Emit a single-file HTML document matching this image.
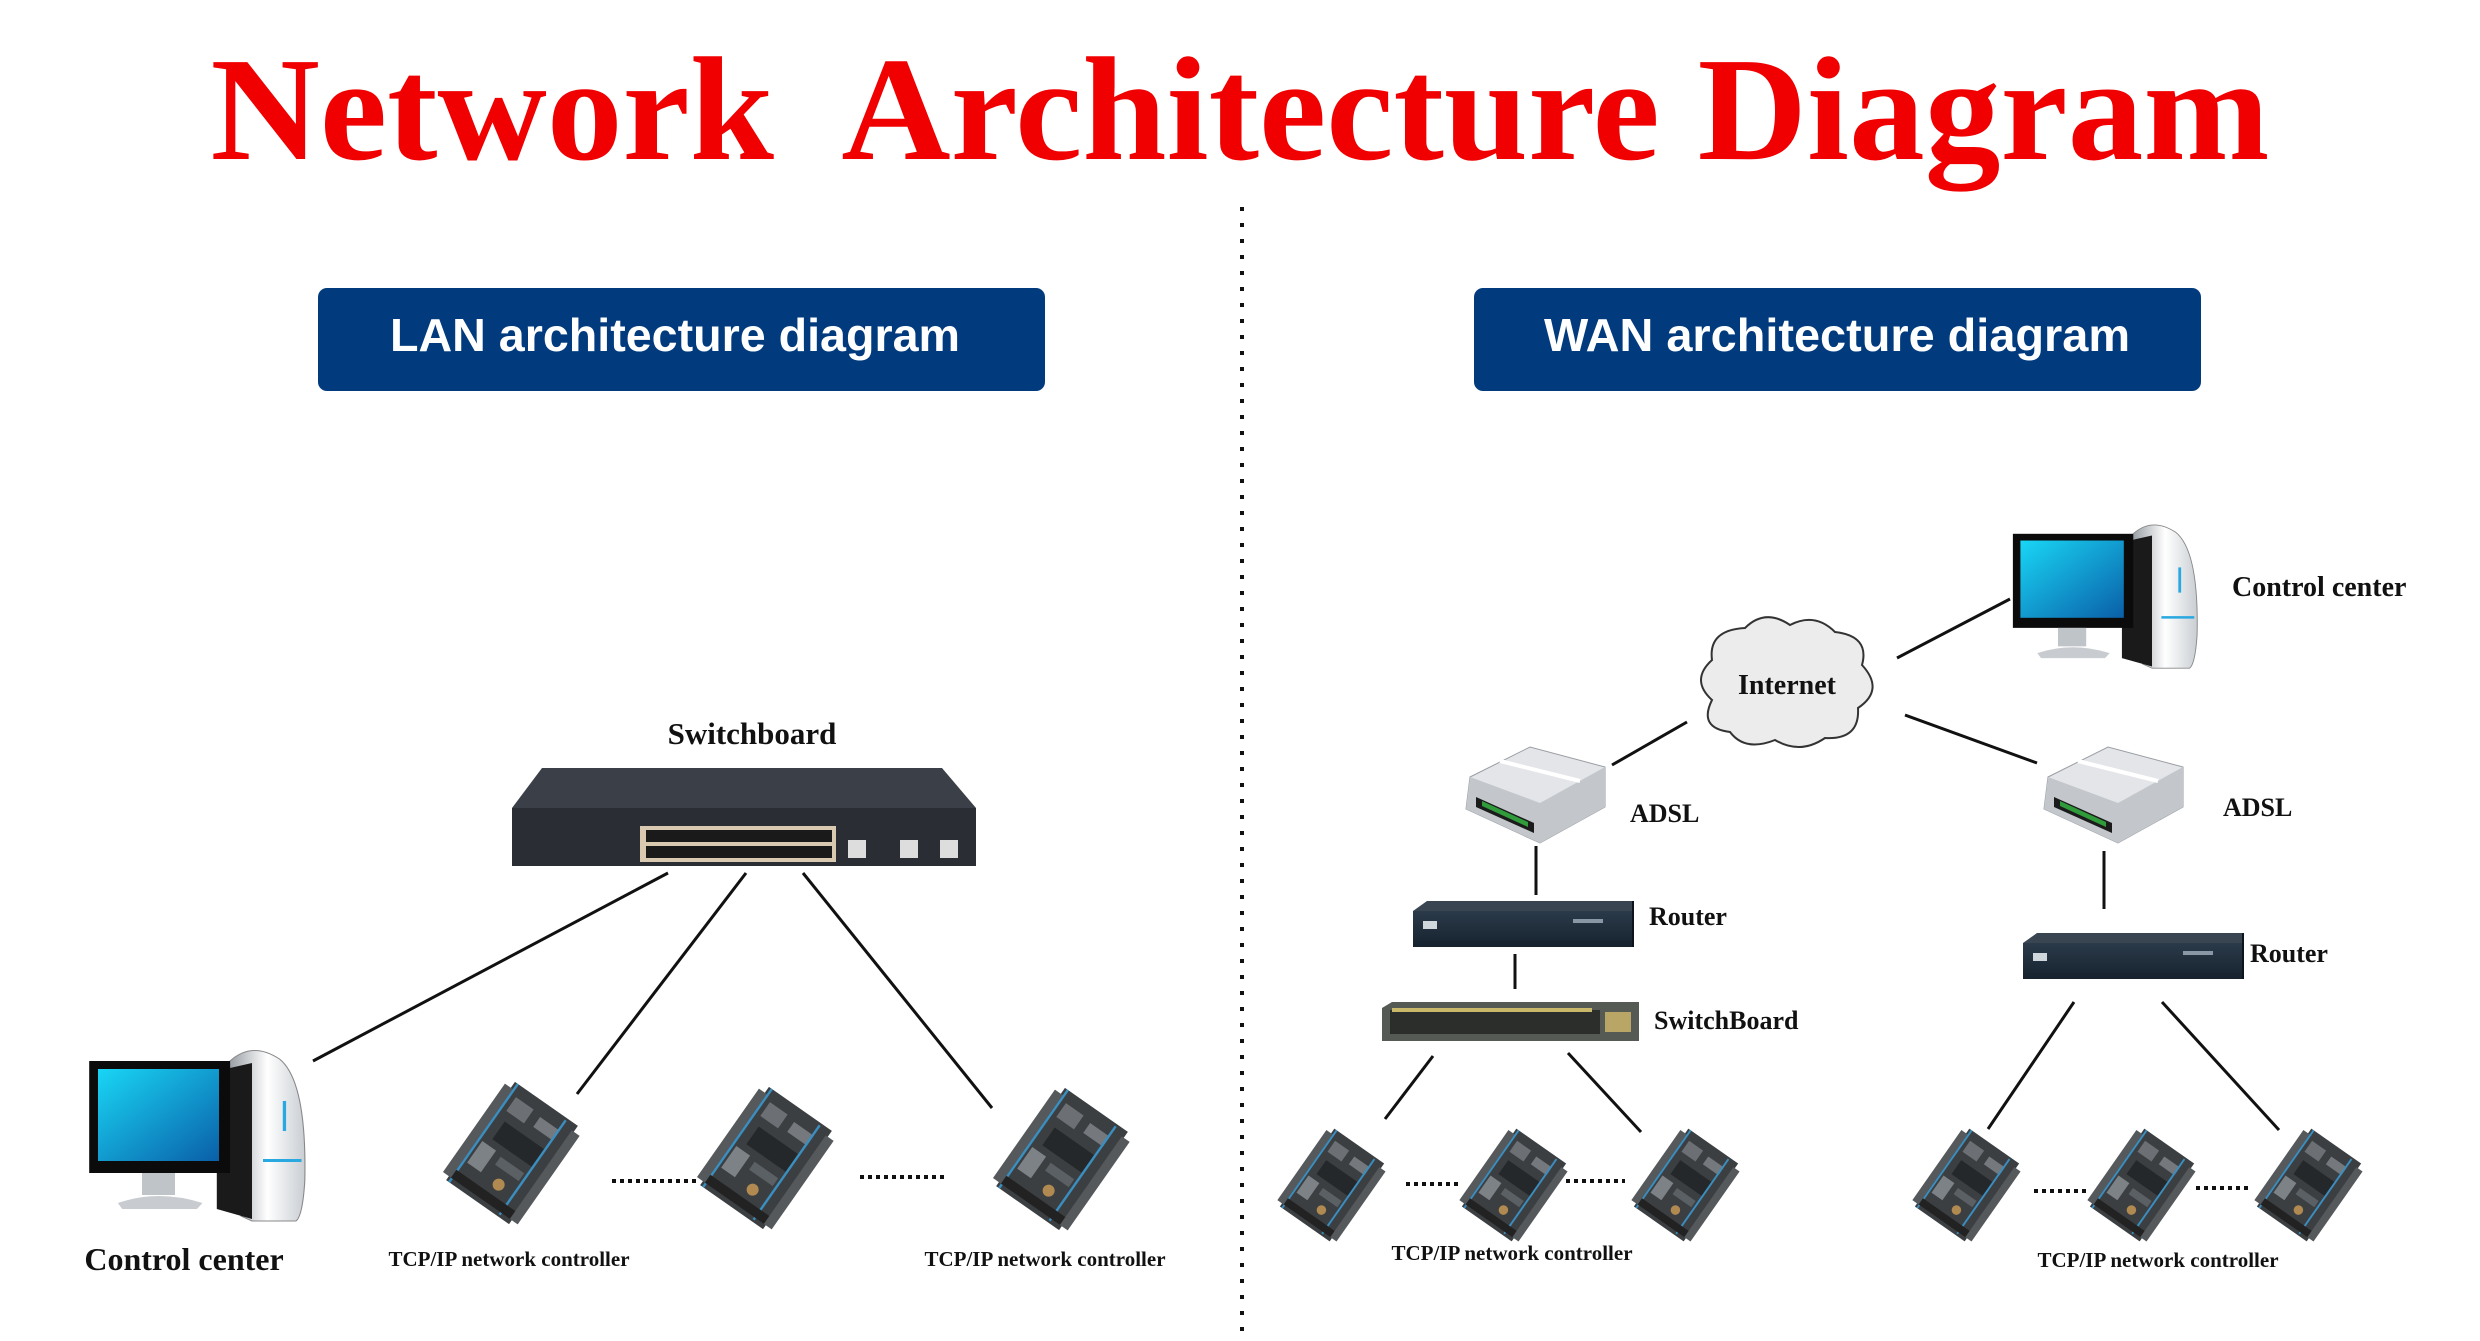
<!DOCTYPE html>
<html><head><meta charset="utf-8"><style>html,body{margin:0;padding:0;background:#fff}svg{display:block}</style></head>
<body>
<svg width="2480" height="1341" viewBox="0 0 2480 1341" xmlns="http://www.w3.org/2000/svg">
<defs>
<linearGradient id="scr" x1="0" y1="0" x2="1" y2="1"><stop offset="0" stop-color="#19d6f5"/><stop offset="1" stop-color="#0a5fa8"/></linearGradient>
<linearGradient id="tow" x1="0" y1="0" x2="1" y2="0"><stop offset="0" stop-color="#9aa0a6"/><stop offset="0.5" stop-color="#ffffff"/><stop offset="1" stop-color="#c9ced3"/></linearGradient>
<linearGradient id="cab" x1="0" y1="0" x2="0" y2="1"><stop offset="0" stop-color="#2b3a4a"/><stop offset="1" stop-color="#16222e"/></linearGradient>
<g id="pc">
 <path d="M130 20 Q150 0 175 18 Q200 40 198 140 Q196 175 190 180 L150 180 L140 175 Z" fill="url(#tow)" stroke="#888" stroke-width="1"/>
 <path d="M118 30 L150 22 L150 178 L118 168 Z" fill="#1a1a1a"/>
 <rect x="178" y="60" width="3" height="30" fill="#2aa8e0"/>
 <rect x="160" y="118" width="35" height="3" fill="#2aa8e0"/>
 <rect x="2" y="20" width="128" height="112" fill="#0b0b0b"/>
 <rect x="10" y="28" width="110" height="92" fill="url(#scr)"/>
 <rect x="50" y="132" width="30" height="22" fill="#bfc4c8"/>
 <path d="M28 162 Q65 148 105 162 L100 168 L32 168 Z" fill="#c8ccd0"/>
</g>
<g id="ctl">
 <g transform="rotate(35)">
  <rect x="-32" y="-50" width="64" height="100" fill="#3c3f42"/>
  <rect x="-38" y="-44" width="8" height="90" fill="#55595c"/>
  <rect x="30" y="-44" width="8" height="90" fill="#55595c"/>
  <rect x="-24" y="-40" width="18" height="14" fill="#6c7074"/>
  <rect x="2" y="-38" width="20" height="10" fill="#75797d"/>
  <rect x="-20" y="-18" width="40" height="18" fill="#25282a"/>
  <rect x="-26" y="6" width="14" height="22" fill="#7d8286"/>
  <rect x="-6" y="8" width="24" height="8" fill="#5b6064"/>
  <circle cx="6" cy="28" r="5" fill="#b08a50"/>
  <rect x="-30" y="-50" width="2" height="100" fill="#3a8fc0"/>
  <rect x="20" y="-48" width="2" height="96" fill="#3a8fc0"/>
  <rect x="-30" y="38" width="60" height="8" fill="#222"/>
 </g>
</g>
<g id="adsl">
 <path d="M10 30 L70 0 L145 20 L145 60 L80 96 L6 62 Z" fill="#e3e5e8" stroke="#9a9ea3"/>
 <path d="M6 62 L80 96 L145 60 L145 20 L80 56 L10 30 Z" fill="#c3c7cc"/>
 <path d="M16 50 L74 76 L74 86 L16 60 Z" fill="#1b1b1b"/>
 <path d="M22 54 L68 75 L68 80 L22 59 Z" fill="#2f9b3a"/>
 <path d="M40 14 L120 34" stroke="#fff" stroke-width="4"/>
</g>
<g id="router">
 <path d="M0 10 L14 0 L220 0 L220 10 Z" fill="#3a4552"/>
 <rect x="0" y="10" width="220" height="36" fill="url(#cab)"/>
 <path d="M220 0 L220 46" stroke="#0d141b" stroke-width="2"/>
 <rect x="10" y="20" width="14" height="8" fill="#cfd6dc"/>
 <rect x="160" y="18" width="30" height="4" fill="#8a98a6"/>
</g>
</defs>

<text x="1240" y="159" text-anchor="middle" font-family="Liberation Serif, serif" font-weight="bold" font-size="148" fill="#f00000" textLength="2059" lengthAdjust="spacingAndGlyphs">Network&#160; Architecture Diagram</text>

<line x1="1242" y1="207" x2="1242" y2="1341" stroke="#111" stroke-width="4" stroke-dasharray="4 12"/>

<rect x="318" y="288" width="727" height="103" rx="9" fill="#013b7e"/>
<text x="675" y="351" text-anchor="middle" font-family="Liberation Sans, sans-serif" font-weight="bold" font-size="46" fill="#fff" textLength="570" lengthAdjust="spacingAndGlyphs">LAN architecture diagram</text>
<rect x="1474" y="288" width="727" height="103" rx="9" fill="#013b7e"/>
<text x="1837" y="351" text-anchor="middle" font-family="Liberation Sans, sans-serif" font-weight="bold" font-size="46" fill="#fff" textLength="586" lengthAdjust="spacingAndGlyphs">WAN architecture diagram</text>

<g font-family="Liberation Serif, serif" font-weight="bold" fill="#111">
<text x="752" y="744" text-anchor="middle" font-size="31">Switchboard</text>
<path d="M542 768 L942 768 L976 808 L512 808 Z" fill="#3b3f47"/>
<rect x="512" y="808" width="464" height="58" fill="#2a2d33"/>
<rect x="640" y="826" width="196" height="36" fill="#d9c9b0"/>
<g fill="#1a1a1a">
<rect x="646" y="830" width="186" height="12"/><rect x="646" y="846" width="186" height="12"/>
</g>
<rect x="848" y="840" width="18" height="18" fill="#ddd"/><rect x="900" y="840" width="18" height="18" fill="#ddd"/><rect x="940" y="840" width="18" height="18" fill="#ddd"/>
<g stroke="#111" stroke-width="3" fill="none">
<line x1="668" y1="873" x2="313" y2="1061"/>
<line x1="746" y1="873" x2="577" y2="1094"/>
<line x1="803" y1="873" x2="992" y2="1108"/>
</g>
<use href="#pc" transform="translate(87,1041) scale(1.1,1.0)"/>
<text x="184" y="1270" text-anchor="middle" font-size="32">Control center</text>
<use href="#ctl" transform="translate(512,1153) scale(1.2)"/>
<use href="#ctl" transform="translate(766,1158) scale(1.2)"/>
<use href="#ctl" transform="translate(1062,1159) scale(1.2)"/>
<g stroke="#111" stroke-width="4" stroke-dasharray="4 4">
<line x1="612" y1="1181" x2="696" y2="1181"/><line x1="860" y1="1177" x2="948" y2="1177"/>
</g>
<text x="509" y="1266" text-anchor="middle" font-size="21">TCP/IP network controller</text>
<text x="1045" y="1266" text-anchor="middle" font-size="21">TCP/IP network controller</text>

<path d="M1712 700 Q1690 680 1712 660 Q1708 630 1745 628 Q1765 608 1790 625 Q1815 612 1835 632 Q1870 636 1862 665 Q1885 690 1858 708 Q1860 740 1825 738 Q1800 755 1775 740 Q1745 752 1730 732 Q1698 728 1712 700 Z" fill="#ececec" stroke="#333" stroke-width="2"/>
<text x="1787" y="694" text-anchor="middle" font-size="28">Internet</text>
<use href="#pc" transform="translate(2011,517) scale(0.94,0.84)"/>
<text x="2232" y="596" font-size="28">Control center</text>
<g stroke="#111" stroke-width="3" fill="none">
<line x1="1897" y1="658" x2="2010" y2="599"/>
<line x1="1687" y1="722" x2="1612" y2="765"/>
<line x1="1905" y1="715" x2="2037" y2="763"/>
<line x1="1536" y1="846" x2="1536" y2="895"/>
<line x1="1515" y1="954" x2="1515" y2="989"/>
<line x1="1433" y1="1056" x2="1385" y2="1119"/>
<line x1="1568" y1="1053" x2="1641" y2="1132"/>
<line x1="2104" y1="851" x2="2104" y2="909"/>
<line x1="2074" y1="1002" x2="1988" y2="1129"/>
<line x1="2162" y1="1002" x2="2279" y2="1130"/>
</g>
<use href="#adsl" transform="translate(1460,747)"/>
<use href="#adsl" transform="translate(2038,747)"/>
<text x="1630" y="822" font-size="26">ADSL</text>
<text x="2223" y="816" font-size="26">ADSL</text>
<use href="#router" transform="translate(1413,901)"/>
<text x="1649" y="925" font-size="26">Router</text>
<use href="#router" transform="translate(2023,933)"/>
<text x="2250" y="962" font-size="26">Router</text>
<path d="M1382 1008 L1392 1002 L1639 1002 L1639 1041 L1382 1041 Z" fill="#555a55"/>
<rect x="1390" y="1010" width="210" height="24" fill="#2b2e2b"/>
<rect x="1392" y="1008" width="200" height="4" fill="#c9b86a"/>
<rect x="1605" y="1012" width="26" height="20" fill="#b9a565"/>
<text x="1654" y="1029" font-size="26">SwitchBoard</text>
<use href="#ctl" transform="translate(1332,1185) scale(0.95)"/>
<use href="#ctl" transform="translate(1514,1185) scale(0.95)"/>
<use href="#ctl" transform="translate(1686,1185) scale(0.95)"/>
<use href="#ctl" transform="translate(1967,1185) scale(0.95)"/>
<use href="#ctl" transform="translate(2142,1185) scale(0.95)"/>
<use href="#ctl" transform="translate(2309,1185) scale(0.95)"/>
<g stroke="#111" stroke-width="4" stroke-dasharray="4 4">
<line x1="1406" y1="1184" x2="1460" y2="1184"/><line x1="1566" y1="1181" x2="1625" y2="1181"/>
<line x1="2034" y1="1191" x2="2090" y2="1191"/><line x1="2196" y1="1188" x2="2250" y2="1188"/>
</g>
<text x="1512" y="1260" text-anchor="middle" font-size="21">TCP/IP network controller</text>
<text x="2158" y="1267" text-anchor="middle" font-size="21">TCP/IP network controller</text>
</g>
</svg>
</body></html>
